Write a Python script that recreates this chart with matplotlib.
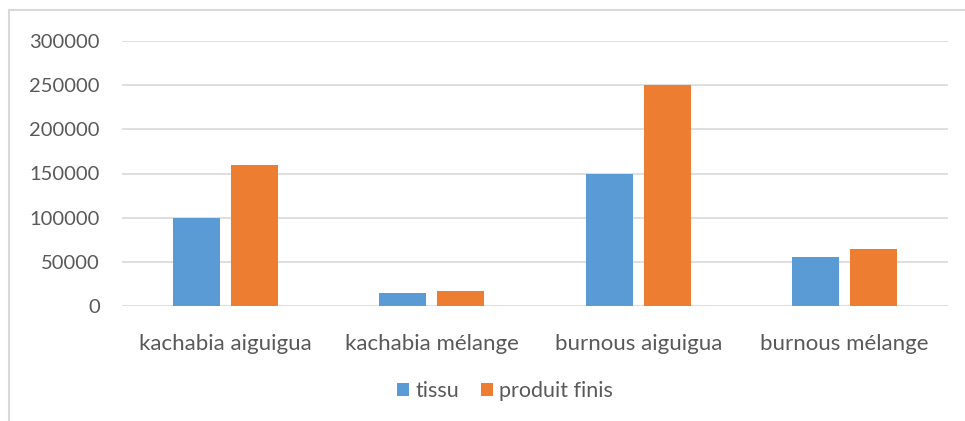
import matplotlib
matplotlib.use("Agg")
import matplotlib.pyplot as plt
import numpy as np

# --- data ---
categories = ["kachabia aiguigua", "kachabia mélange", "burnous aiguigua", "burnous mélange"]
tissu = [100000, 15000, 150000, 55000]
produit_finis = [160000, 17000, 250000, 64000]
series_names = ["tissu", "produit finis"]

plt.rcParams['font.family'] = ['Lato', 'DejaVu Sans']

fig = plt.figure(figsize=(9.65, 4.21), dpi=100)
ax = fig.add_axes([122 / 965, 1 - 306 / 421, (948 - 122) / 965, (306 - 41) / 421])

x = np.arange(len(categories))
w = 0.228
off = 0.14
ax.bar(x - off, tissu, w, color="#5b9bd5", label=series_names[0], zorder=3)
ax.bar(x + off, produit_finis, w, color="#ed7d31", label=series_names[1], zorder=3)

ax.set_xlim(-0.5, len(categories) - 0.5)
ax.set_ylim(0, 300000)
ax.set_yticks(np.arange(0, 300001, 50000))
ax.set_yticklabels([str(v) for v in range(0, 300001, 50000)])
ax.set_xticks(x)
ax.set_xticklabels(categories)

ax.grid(axis="y", color="#d9d9d9", linewidth=1.2, zorder=0)
for s in ax.spines.values():
    s.set_visible(False)
ax.tick_params(axis="both", length=0, colors="#595959")
ax.tick_params(axis="y", pad=16, labelsize=14.5)
ax.tick_params(axis="x", pad=20, labelsize=16)

fig.legend(loc="center", bbox_to_anchor=(505 / 965, 1 - 391 / 421), ncol=2,
           frameon=False, fontsize=15.5, labelcolor="#595959",
           handlelength=0.55, handleheight=0.55, handletextpad=0.3, columnspacing=1.0)

# outer chart frame (left and top edges visible in the reference)
fig.add_artist(plt.Line2D([9 / 965, 9 / 965], [0, 1 - 10 / 421], color="#d9d9d9", lw=1.5))
fig.add_artist(plt.Line2D([9 / 965, 1], [1 - 10 / 421, 1 - 10 / 421], color="#d9d9d9", lw=1.5))

fig.savefig("out.png", dpi=100, facecolor="white")
